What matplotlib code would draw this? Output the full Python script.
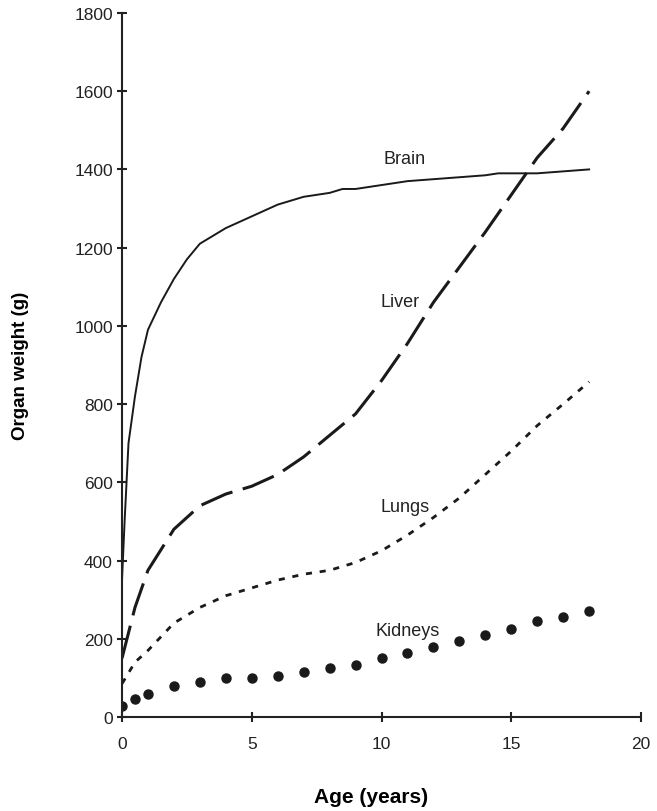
import matplotlib.pyplot as plt

plt.rcParams['font.family'] = ['Liberation Sans', 'DejaVu Sans']

# organ weight (g) by age (years)
brain_age = [0, 0.1, 0.25, 0.5, 0.75, 1, 1.5, 2, 2.5, 3, 4, 5, 6, 7, 8, 8.5, 9, 10, 11, 12, 13, 14, 14.5, 16, 17, 18]
brain_wt = [350, 500, 700, 820, 920, 990, 1060, 1120, 1170, 1210, 1250, 1280, 1310, 1330, 1340, 1350, 1350, 1360,
            1370, 1375, 1380, 1385, 1390, 1390, 1395, 1400]

liver_age = [0, 0.5, 1, 2, 3, 4, 5, 6, 7, 8, 9, 10, 11, 12, 13, 14, 15, 16, 17, 18]
liver_wt = [150, 280, 375, 480, 540, 570, 590, 620, 665, 720, 775, 860, 955, 1060, 1150, 1240, 1335, 1430, 1505, 1600]

lungs_age = [0, 0.5, 1, 2, 3, 4, 5, 6, 7, 8, 9, 10, 11, 12, 13, 14, 15, 16, 17, 18]
lungs_wt = [85, 140, 170, 240, 280, 310, 330, 350, 365, 375, 395, 425, 465, 510, 560, 620, 680, 745, 800, 857]

kidney_age = [0, 0.5, 1, 2, 3, 4, 5, 6, 7, 8, 9, 10, 11, 12, 13, 14, 15, 16, 17, 18]
kidney_wt = [28, 45, 60, 80, 90, 100, 100, 105, 115, 125, 133, 150, 164, 180, 195, 210, 225, 246, 255, 270]

labels = ['Brain', 'Liver', 'Lungs', 'Kidneys']
label_pos = [(10.9, 1427), (10.7, 1061), (10.9, 537), (11.0, 222)]

fig = plt.figure(figsize=(6.57, 8.12), dpi=100)
ax = fig.add_axes([0.1857, 0.1158, 0.79, 0.867])

ax.plot(brain_age, brain_wt, color='#1a1a1a', lw=1.4)
ax.plot(liver_age, liver_wt, color='#1a1a1a', lw=2.2, dashes=(11, 3.5))
ax.plot(lungs_age, lungs_wt, color='#1a1a1a', lw=2.0, dashes=(2.2, 2.8))
ax.plot(kidney_age, kidney_wt, 'o', color='#1a1a1a', ms=6.5)

for lab, (x, y) in zip(labels, label_pos):
    ax.text(x, y, lab, fontsize=13, ha='center', va='center', color='#222222')

ax.set_xlim(0, 20)
ax.set_ylim(0, 1800)
ax.set_xticks([0, 5, 10, 15, 20])
ax.set_yticks(range(0, 1801, 200))
ax.spines['top'].set_visible(False)
ax.spines['right'].set_visible(False)
for s in ['left', 'bottom']:
    ax.spines[s].set_linewidth(1.5)
    ax.spines[s].set_color('#222222')
ax.tick_params(direction='inout', length=7, width=1.5, labelsize=12.5, colors='#222222')
ax.tick_params(axis='x', pad=10)
ax.tick_params(axis='y', pad=3)

fig.text(0.565, 0.018, 'Age (years)', fontsize=15, fontweight='bold', ha='center', va='center')
fig.text(0.031, 0.55, 'Organ weight (g)', fontsize=13.5, fontweight='bold', ha='center', va='center',
         rotation=90)

fig.savefig('out.png', dpi=100)
